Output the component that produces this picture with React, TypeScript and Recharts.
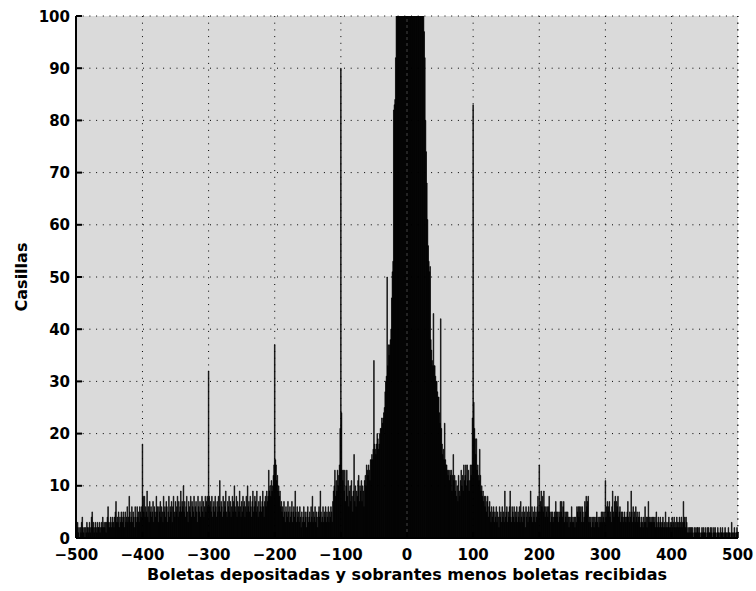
import { BarChart, Bar, XAxis, YAxis, CartesianGrid, ReferenceLine } from "recharts";

// histogram bins: one integer per bin from -500 to 500
const BIN_START = -500;

const countsM500 = [
  3, 2, 3, 1, 2, 0, 2, 1, 3, 4,
  2, 1, 2, 0, 2, 1, 3, 2, 1, 2,
  3, 1, 2, 4, 5, 2, 3, 1, 2, 3,
  2, 1, 3, 2, 2, 3, 1, 2, 3, 2,
  4, 2, 3, 2, 3, 1, 3, 4, 6, 3,
  2, 3, 4, 2, 3, 4, 3, 2, 4, 5,
  7, 3, 4, 3, 5, 2, 4, 3, 5, 4,
  3, 5, 4, 2, 5, 3, 4, 6, 3, 4,
  8, 5, 3, 4, 6, 3, 5, 4, 2, 6,
  4, 3, 6, 4, 5, 3, 6, 5, 4, 6,
];
const countsM400 = [
  18, 8, 5, 8, 4, 6, 5, 9, 4, 6,
  3, 7, 5, 6, 4, 5, 7, 3, 6, 5,
  4, 8, 5, 6, 3, 6, 5, 7, 4, 6,
  5, 3, 8, 5, 6, 4, 7, 6, 3, 5,
  8, 4, 6, 5, 7, 3, 6, 8, 5, 4,
  7, 5, 6, 8, 4, 7, 5, 6, 9, 5,
  7, 6, 10, 5, 7, 4, 6, 8, 5, 3,
  7, 6, 5, 8, 4, 7, 6, 5, 8, 4,
  6, 7, 5, 3, 8, 6, 5, 7, 4, 6,
  8, 5, 7, 4, 6, 8, 5, 7, 8, 6,
];
const countsM300 = [
  32, 8, 6, 7, 5, 8, 4, 6, 7, 5,
  8, 6, 4, 7, 5, 8, 6, 11, 5, 7,
  6, 4, 8, 5, 7, 6, 9, 5, 4, 7,
  6, 8, 5, 7, 4, 6, 8, 5, 7, 10,
  6, 5, 8, 4, 7, 6, 5, 9, 6, 4,
  7, 5, 8, 6, 7, 4, 6, 8, 5, 10,
  6, 7, 5, 8, 6, 4, 7, 9, 5, 6,
  8, 7, 5, 9, 6, 4, 7, 5, 8, 6,
  5, 7, 9, 6, 4, 7, 8, 6, 9, 7,
  8, 13, 9, 10, 8, 11, 9, 10, 12, 14,
];
const countsM200 = [
  37, 15, 14, 11, 12, 9, 10, 8, 9, 6,
  7, 5, 6, 4, 7, 5, 3, 6, 5, 4,
  7, 5, 3, 6, 4, 5, 7, 3, 5, 6,
  4, 9, 5, 3, 6, 4, 5, 3, 6, 4,
  2, 5, 3, 4, 6, 3, 5, 4, 2, 5,
  6, 3, 4, 5, 3, 6, 4, 8, 3, 5,
  4, 6, 3, 5, 4, 2, 5, 6, 4, 9,
  5, 3, 4, 6, 3, 5, 4, 6, 3, 5,
  4, 6, 3, 5, 4, 6, 5, 3, 7, 9,
  10, 13, 8, 11, 9, 13, 10, 12, 14, 21,
];
const countsM100 = [
  90, 24, 13, 11, 13, 9, 13, 7, 10, 13,
  8, 11, 6, 9, 10, 7, 11, 8, 5, 9,
  16, 7, 10, 6, 9, 8, 11, 12, 7, 10,
  9, 11, 7, 10, 9, 6, 11, 12, 10, 14,
  13, 12, 14, 13, 11, 15, 15, 16, 15, 17,
  34, 18, 17, 16, 18, 20, 19, 17, 18, 20,
  21, 21, 23, 22, 23, 24, 25, 28, 30, 31,
  50, 33, 37, 35, 37, 38, 40, 46, 51, 53,
  82, 83, 84, 92, 106, 115, 128, 142, 160, 180,
  205, 230, 260, 295, 330, 370, 420, 470, 520, 570,
];
const countsP0 = [
  620, 580, 540, 490, 450, 410, 370, 340, 310, 285,
  260, 240, 220, 200, 185, 170, 155, 145, 135, 125,
  118, 112, 108, 105, 103, 101, 97, 92, 80, 74,
  68, 61, 56, 53, 51, 52, 38, 36, 34, 33,
  43, 33, 33, 31, 30, 30, 28, 27, 27, 24,
  22, 42, 21, 18, 16, 17, 15, 22, 15, 14,
  14, 13, 12, 13, 11, 13, 12, 13, 9, 12,
  16, 11, 12, 9, 11, 8, 10, 7, 12, 9,
  8, 11, 13, 10, 12, 9, 14, 11, 12, 14,
  10, 14, 11, 13, 9, 11, 14, 12, 14, 23,
];
const countsP100 = [
  83, 26, 21, 19, 16, 19, 13, 14, 12, 11,
  17, 12, 9, 10, 8, 9, 7, 8, 6, 8,
  5, 7, 8, 4, 6, 7, 5, 3, 6, 4,
  5, 6, 3, 5, 4, 6, 3, 5, 4, 2,
  6, 4, 5, 3, 6, 4, 5, 3, 9, 4,
  5, 6, 3, 5, 4, 6, 9, 4, 3, 6,
  5, 4, 6, 3, 5, 4, 6, 3, 5, 4,
  6, 3, 7, 4, 5, 3, 6, 4, 5, 2,
  6, 4, 5, 3, 6, 4, 5, 9, 4, 6,
  3, 5, 4, 6, 3, 5, 4, 6, 8, 5,
];
const countsP200 = [
  14, 5, 7, 9, 6, 8, 5, 9, 6, 4,
  6, 5, 6, 4, 6, 8, 5, 3, 5, 4,
  5, 3, 4, 5, 4, 7, 5, 4, 5, 3,
  5, 4, 7, 5, 7, 4, 6, 7, 3, 5,
  4, 5, 3, 5, 4, 2, 4, 3, 4, 6,
  3, 4, 3, 4, 2, 4, 3, 6, 5, 6,
  4, 6, 5, 6, 3, 6, 5, 3, 4, 7,
  5, 8, 6, 7, 8, 3, 4, 3, 4, 2,
  4, 3, 4, 2, 4, 3, 4, 5, 3, 4,
  2, 4, 3, 4, 5, 3, 5, 4, 5, 3,
];
const countsP300 = [
  11, 4, 6, 7, 5, 6, 7, 4, 5, 3,
  6, 9, 5, 4, 7, 8, 5, 7, 6, 8,
  4, 5, 6, 3, 5, 4, 5, 3, 4, 5,
  4, 3, 4, 5, 7, 4, 3, 5, 4, 9,
  5, 3, 6, 4, 5, 3, 6, 4, 5, 3,
  4, 5, 4, 2, 3, 4, 3, 2, 4, 3,
  6, 3, 4, 2, 4, 7, 3, 4, 3, 4,
  3, 4, 3, 4, 3, 4, 2, 5, 3, 2,
  4, 3, 2, 4, 3, 2, 3, 4, 2, 3,
  2, 5, 2, 3, 2, 3, 4, 2, 3, 2,
];
const countsP400 = [
  3, 4, 2, 3, 4, 2, 3, 2, 4, 3,
  2, 3, 4, 2, 3, 4, 2, 3, 7, 3,
  4, 2, 4, 3, 1, 2, 1, 2, 1, 2,
  2, 1, 2, 0, 1, 2, 1, 2, 1, 2,
  2, 1, 2, 1, 0, 1, 2, 1, 2, 1,
  1, 2, 1, 0, 2, 1, 2, 1, 1, 2,
  1, 2, 0, 1, 2, 1, 2, 1, 0, 1,
  2, 1, 1, 0, 2, 1, 1, 2, 1, 0,
  1, 2, 1, 1, 0, 1, 2, 1, 1, 0,
  1, 3, 1, 0, 1, 2, 1, 0, 1, 2,
  1,
];

const xTicks = [-500, -400, -300, -200, -100, 0, 100, 200, 300, 400, 500];
const yTicks = [0, 10, 20, 30, 40, 50, 60, 70, 80, 90, 100];

const data = [
  ...countsM500, ...countsM400, ...countsM300, ...countsM200, ...countsM100,
  ...countsP0, ...countsP100, ...countsP200, ...countsP300, ...countsP400,
].map((count, i) => ({ x: BIN_START + i, count }));

const font = { fontFamily: "'DejaVu Sans', sans-serif", fontWeight: 700 };
const fmt = (v: number) => (v < 0 ? "\u2212" + Math.abs(v) : String(v));

const BottomTick = ({ x, y, payload }: any) => (
  <g>
    <line x1={x} y1={y} x2={x} y2={y - 6} stroke="#000" strokeWidth={2} />
    <text x={x} y={y + 22} textAnchor="middle" fill="#000" style={{ ...font, fontSize: 15 }}>
      {fmt(payload.value)}
    </text>
  </g>
);

const TopTick = ({ x, y }: any) => (
  <line x1={x} y1={y} x2={x} y2={y + 6} stroke="#000" strokeWidth={2} />
);

const LeftTick = ({ x, y, payload }: any) => (
  <g>
    <line x1={x} y1={y} x2={x + 6} y2={y} stroke="#000" strokeWidth={2} />
    <text x={x - 6} y={y + 5.5} textAnchor="end" fill="#000" style={{ ...font, fontSize: 15 }}>
      {payload.value}
    </text>
  </g>
);

const RightTick = ({ x, y }: any) => (
  <line x1={x} y1={y} x2={x - 6} y2={y} stroke="#000" strokeWidth={2} />
);

const XTitle = ({ viewBox }: any) => (
  <text
    x={viewBox.x + viewBox.width / 2}
    y={viewBox.y + 42}
    textAnchor="middle"
    fill="#000"
    style={{ ...font, fontSize: 16 }}
  >
    Boletas depositadas y sobrantes menos boletas recibidas
  </text>
);

const YTitle = ({ viewBox }: any) => {
  const cx = viewBox.x + 27;
  const cy = viewBox.y + viewBox.height / 2;
  return (
    <text
      x={cx}
      y={cy}
      transform={`rotate(-90 ${cx} ${cy})`}
      textAnchor="middle"
      fill="#000"
      style={{ ...font, fontSize: 16 }}
    >
      Casillas
    </text>
  );
};

export default function App() {
  return (
    <div style={{ position: "absolute", left: 0, top: 0, background: "#fff" }}>
      <BarChart
        width={756}
        height={591}
        data={data}
        margin={{ top: 16, right: 18, bottom: 0, left: 0 }}
        barCategoryGap={0}
        barGap={0}
      >
        <CartesianGrid
          fill="#dadada"
          fillOpacity={1}
          stroke="#000"
          strokeWidth={1}
          strokeDasharray="1 5.7"
        />
        <XAxis
          dataKey="x"
          type="category"
          ticks={xTicks}
          interval={0}
          height={53}
          tickSize={0}
          tickMargin={0}
          tickLine={false}
          tick={<BottomTick />}
          axisLine={{ stroke: "#000", strokeWidth: 2 }}
          label={<XTitle />}
        />
        <XAxis
          xAxisId="top"
          dataKey="x"
          type="category"
          orientation="top"
          ticks={xTicks}
          interval={0}
          height={0}
          tickSize={0}
          tickMargin={0}
          tickLine={false}
          tick={<TopTick />}
          axisLine={{ stroke: "#000", strokeWidth: 2 }}
        />
        <YAxis
          type="number"
          domain={[0, 100]}
          ticks={yTicks}
          interval={0}
          allowDataOverflow
          width={76}
          tickSize={0}
          tickMargin={0}
          tickLine={false}
          tick={<LeftTick />}
          axisLine={{ stroke: "#000", strokeWidth: 2 }}
          label={<YTitle />}
        />
        <YAxis
          yAxisId="right"
          orientation="right"
          type="number"
          domain={[0, 100]}
          ticks={yTicks}
          interval={0}
          allowDataOverflow
          width={0}
          tickSize={0}
          tickMargin={0}
          tickLine={false}
          tick={<RightTick />}
          axisLine={{ stroke: "#000", strokeWidth: 2 }}
        />
        <Bar dataKey="count" fill="#000" stroke="#000" strokeWidth={0.6} isAnimationActive={false} />
        <ReferenceLine x={0} stroke="#555" strokeWidth={0.8} strokeDasharray="3 3" />
      </BarChart>
    </div>
  );
}
